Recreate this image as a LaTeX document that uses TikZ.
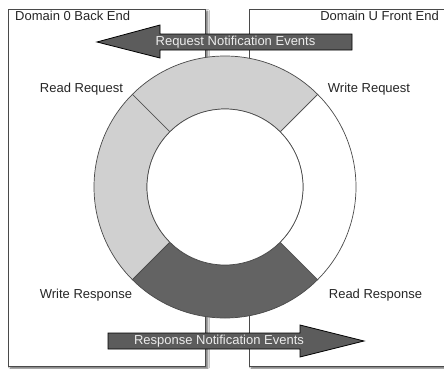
\documentclass[tikz,border=0pt]{standalone}
\usepackage{fontspec}
\setmainfont{Liberation Sans}
\usetikzlibrary{shadows.blur,calc}
\definecolor{lightseg}{HTML}{D0D0D0}
\definecolor{darkseg}{HTML}{636363}
\definecolor{arrowfill}{HTML}{5C5C5C}
\definecolor{arrowtext}{HTML}{ECECEC}
\definecolor{edge}{HTML}{4A4A4A}
\tikzset{
  panel/.style={draw=edge, line width=0.8pt, fill=white,
    blur shadow={shadow xshift=2.5pt, shadow yshift=-2.5pt, shadow blur steps=6, shadow opacity=60}},
  seg/.style={draw=edge, line width=0.7pt},
  evarrow/.style={draw=black, line width=0.8pt, fill=arrowfill},
  evtext/.style={text=arrowtext, font=\fontsize{13}{15}\selectfont, inner sep=0pt},
  lbl/.style={font=\fontsize{13}{15}\selectfont, text=black!85, inner sep=0pt}
}
\begin{document}
\begin{tikzpicture}[x=1pt,y=1pt]
\useasboundingbox (0,0) rectangle (444,368);
\fill[white] (0,0) rectangle (444,368);
% panels
\path[panel] (8,2) rectangle (205,359);
\path[panel] (249,2) rectangle (450,359);
% ring
\coordinate (c) at (225,181);
\path[seg, fill=lightseg] ($(c)+(45:131)$) arc[start angle=45, end angle=135, radius=131]
  -- ($(c)+(135:78)$) arc[start angle=135, end angle=45, radius=78] -- cycle;
\path[seg, fill=lightseg] ($(c)+(135:131)$) arc[start angle=135, end angle=225, radius=131]
  -- ($(c)+(225:78)$) arc[start angle=225, end angle=135, radius=78] -- cycle;
\path[seg, fill=darkseg] ($(c)+(225:131)$) arc[start angle=225, end angle=315, radius=131]
  -- ($(c)+(315:78)$) arc[start angle=315, end angle=225, radius=78] -- cycle;
\path[seg, fill=white] ($(c)+(315:131)$) arc[start angle=-45, end angle=45, radius=131]
  -- ($(c)+(45:78)$) arc[start angle=45, end angle=-45, radius=78] -- cycle;
\path[seg, fill=white] (c) circle[radius=78];
% request arrow (pointing left)
\path[evarrow] (97,326) -- (160,343) -- (160,334) -- (352,334) -- (352,318) -- (160,318) -- (160,310) -- cycle;
\node[evtext] (req) at (235.5,326) {Request Notification Events};
% response arrow (pointing right)
\path[evarrow] (364,27) -- (300,43) -- (300,35) -- (108,35) -- (108,19) -- (300,19) -- (300,11) -- cycle;
\node[evtext] (resp) at (219,27) {Response Notification Events};
% labels
\node[lbl, anchor=west] (dom0) at (15,352) {Domain 0 Back End};
\node[lbl, anchor=east] (domU) at (439,352) {Domain U Front End};
\node[lbl] (rreq) at (81.5,279) {Read Request};
\node[lbl] (wreq) at (369,279) {Write Request};
\node[lbl] (wresp) at (86,73) {Write Response};
\node[lbl] (rresp) at (375.5,73) {Read Response};
\end{tikzpicture}
\end{document}
